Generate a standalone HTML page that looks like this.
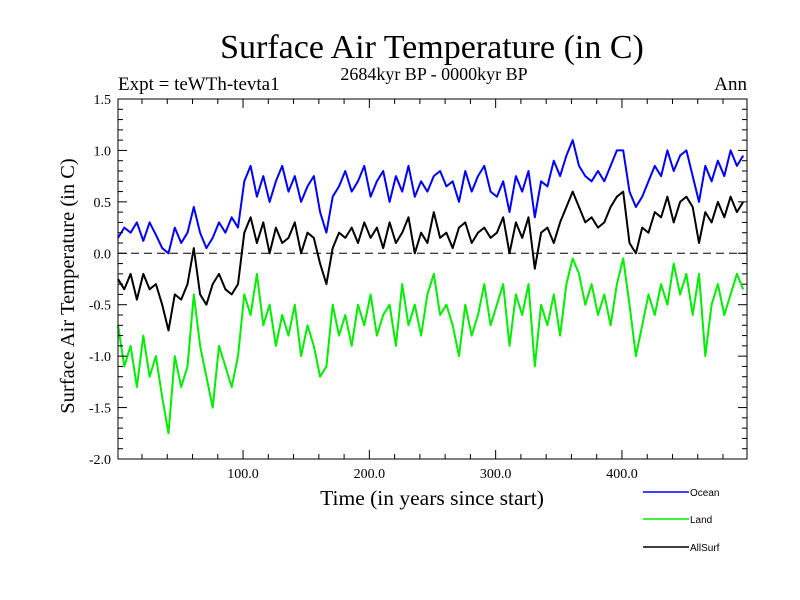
<!DOCTYPE html>
<html><head><meta charset="utf-8"><style>
body{margin:0;background:#fff;width:800px;height:600px;overflow:hidden}
svg{display:block}
text{font-family:"Liberation Serif",serif;fill:#000}
</style></head><body>
<svg id="c" width="800" height="600">
<text x="432" y="58" font-size="34" text-anchor="middle">Surface Air Temperature (in C)</text>
<text x="434" y="80" font-size="18" text-anchor="middle">2684kyr BP - 0000kyr BP</text>
<text x="118" y="90" font-size="19">Expt = teWTh-tevta1</text>
<text x="747" y="90" font-size="19" text-anchor="end">Ann</text>
<text x="432" y="505" font-size="21.5" text-anchor="middle">Time (in years since start)</text>
<text transform="translate(74,286) rotate(-90)" font-size="20.5" text-anchor="middle">Surface Air Temperature (in C)</text>
<g id="plot"></g>
</svg>
<script>
const years=[];for(let i=0;i<100;i++)years.push(i*5+1);
const ocean=[0.15,0.25,0.2,0.3,0.12,0.3,0.18,0.05,0.0,0.25,0.1,0.2,0.45,0.2,0.05,0.15,0.3,0.2,0.35,0.25,
0.7,0.85,0.55,0.75,0.5,0.7,0.85,0.6,0.75,0.5,0.65,0.75,0.4,0.2,0.55,0.65,0.8,0.6,0.7,0.85,
0.55,0.7,0.8,0.5,0.75,0.6,0.85,0.55,0.7,0.6,0.75,0.8,0.65,0.7,0.5,0.8,0.6,0.75,0.85,0.6,
0.55,0.7,0.4,0.75,0.6,0.8,0.35,0.7,0.65,0.9,0.75,0.95,1.1,0.85,0.75,0.7,0.8,0.7,0.85,1.0,
1.0,0.6,0.45,0.55,0.7,0.85,0.75,1.0,0.8,0.95,1.0,0.75,0.5,0.85,0.7,0.9,0.75,1.0,0.85,0.95];
const land=[-0.7,-1.1,-0.9,-1.3,-0.8,-1.2,-1.0,-1.4,-1.75,-1.0,-1.3,-1.1,-0.4,-0.9,-1.2,-1.5,-0.9,-1.1,-1.3,-1.0,
-0.4,-0.6,-0.2,-0.7,-0.5,-0.9,-0.6,-0.8,-0.5,-1.0,-0.7,-0.9,-1.2,-1.1,-0.5,-0.8,-0.6,-0.9,-0.5,-0.7,
-0.4,-0.8,-0.6,-0.5,-0.9,-0.3,-0.7,-0.5,-0.8,-0.4,-0.2,-0.6,-0.5,-0.7,-1.0,-0.5,-0.8,-0.6,-0.3,-0.7,
-0.5,-0.3,-0.9,-0.4,-0.6,-0.3,-1.1,-0.5,-0.7,-0.4,-0.8,-0.3,-0.05,-0.2,-0.5,-0.3,-0.6,-0.4,-0.7,-0.3,
-0.05,-0.5,-1.0,-0.7,-0.4,-0.6,-0.3,-0.5,-0.1,-0.4,-0.2,-0.6,-0.2,-1.0,-0.5,-0.3,-0.6,-0.4,-0.2,-0.35];
const allsurf=[-0.25,-0.35,-0.2,-0.45,-0.2,-0.35,-0.3,-0.5,-0.75,-0.4,-0.45,-0.3,0.05,-0.4,-0.5,-0.3,-0.2,-0.35,-0.4,-0.3,
0.2,0.35,0.1,0.3,0.0,0.25,0.1,0.15,0.3,0.0,0.2,0.15,-0.1,-0.3,0.05,0.2,0.15,0.25,0.1,0.3,
0.15,0.25,0.05,0.3,0.1,0.2,0.35,0.0,0.2,0.1,0.4,0.15,0.2,0.05,0.25,0.3,0.1,0.2,0.25,0.15,
0.2,0.35,0.0,0.3,0.15,0.35,-0.15,0.2,0.25,0.1,0.3,0.45,0.6,0.45,0.3,0.35,0.25,0.3,0.45,0.55,
0.6,0.1,0.0,0.25,0.2,0.4,0.35,0.55,0.3,0.5,0.55,0.45,0.1,0.4,0.3,0.5,0.35,0.55,0.4,0.5];
const yTicks=[1.5,1.0,0.5,0.0,-0.5,-1.0,-1.5,-2.0];
const yTickLabels=["1.5","1.0","0.5","0.0","-0.5","-1.0","-1.5","-2.0"];
const xTicks=[100,200,300,400];
const xTickLabels=["100.0","200.0","300.0","400.0"];

const L=118,R=747,T=99,B=459,X0=1,X1=499;
const xs=v=>L+(v-X0)/(X1-X0)*(R-L);
const ys=v=>T+(1.5-v)/3.5*(B-T);
const NS="http://www.w3.org/2000/svg";
const g=document.getElementById('plot');
function mk(t,a){const e=document.createElementNS(NS,t);for(const k in a)e.setAttribute(k,a[k]);g.appendChild(e);return e;}

let e=mk('line',{x1:L,x2:R,y1:ys(0),y2:ys(0),stroke:'#000','stroke-width':1,'stroke-dasharray':'8,5'});



function series(vals,color,name){
  const d=vals.map((v,i)=>(i?'L':'M')+xs(years[i]).toFixed(1)+','+ys(v).toFixed(1)).join('');
  const p=mk('path',{d:d,fill:'none',stroke:color,'stroke-width':2,'stroke-linejoin':'round'});
  
  
}
series(land,'#00ee00','land-line');
series(allsurf,'#000','allsurf-line');
series(ocean,'#0000ff','ocean-line');

e=mk('rect',{x:L,y:T,width:R-L,height:B-T,fill:'none',stroke:'#000','stroke-width':1});



for(let v=-2.0;v<=1.501;v+=0.1){
  const y=ys(v),major=Math.abs(v*2-Math.round(v*2))<0.01,len=major?9:5;
  mk('line',{x1:L,x2:L+len,y1:y,y2:y,stroke:'#000'});
  mk('line',{x1:R,x2:R-len,y1:y,y2:y,stroke:'#000'});
}
yTicks.forEach((v,i)=>{
  const t=mk('text',{x:111,y:ys(v)+5,'font-size':14,'text-anchor':'end'});
  t.textContent=yTickLabels[i];
  
  
});
for(let v=20;v<X1;v+=20){
  const x=xs(v),major=v%100===0,len=major?9:5;
  mk('line',{x1:x,x2:x,y1:B,y2:B-len,stroke:'#000'});
  mk('line',{x1:x,x2:x,y1:T,y2:T+len,stroke:'#000'});
}
xTicks.forEach((v,i)=>{
  const t=mk('text',{x:xs(v),y:478,'font-size':14,'text-anchor':'middle'});
  t.textContent=xTickLabels[i];
  
  
});
const legNames=["Ocean","Land","AllSurf"],legColors=["#0000ff","#00ee00","#000"],legY=[492,519,547];
legNames.forEach((n,i)=>{
  const l=mk('line',{x1:643,x2:689,y1:legY[i],y2:legY[i],stroke:legColors[i],'stroke-width':1.5});
  
  
  const t=mk('text',{x:690,y:legY[i]+4,'font-size':10,style:'font-family:"Liberation Sans",sans-serif'});
  t.textContent=n;
  
  
});
</script>
</body></html>
